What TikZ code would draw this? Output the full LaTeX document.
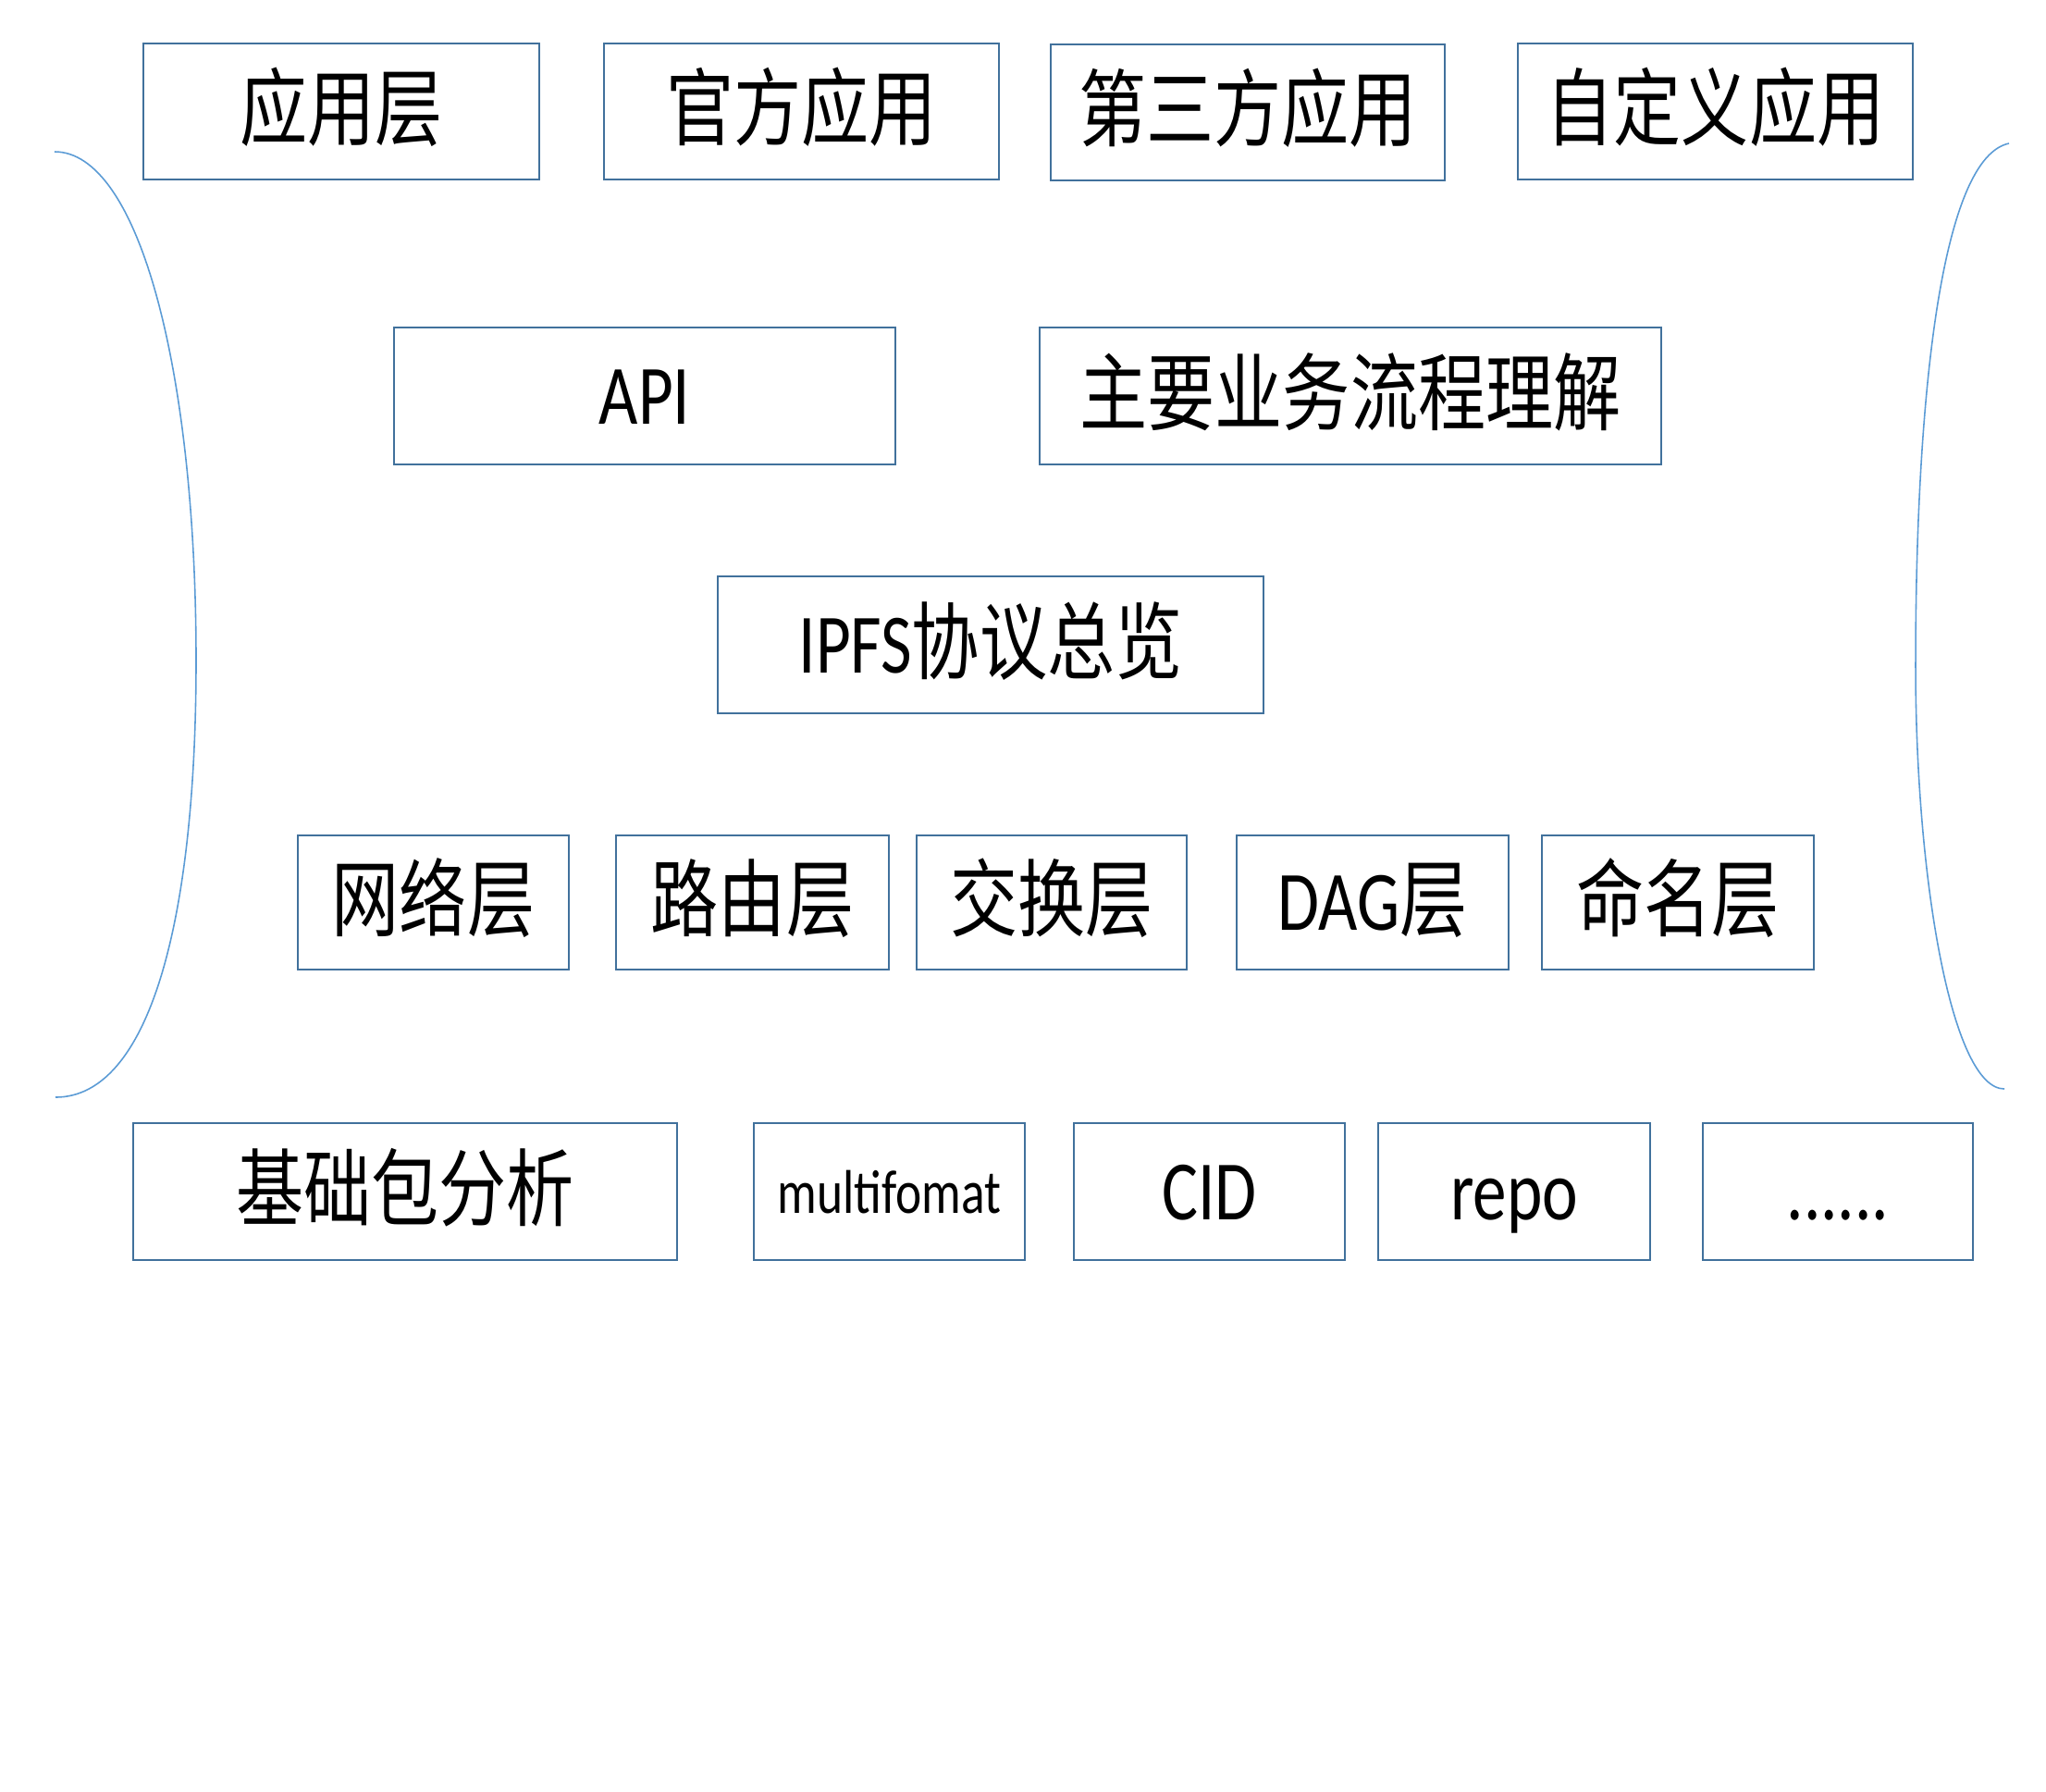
\documentclass[tikz,border=0pt]{standalone}
\usepackage{fontspec}
\setmainfont{Carlito}[FakeStretch=0.8]
\newfontfamily\cjk{Noto Sans CJK SC}[FakeStretch=0.8]
\definecolor{boxblue}{HTML}{41719C}
\definecolor{brkblue}{HTML}{5B9BD5}
\tikzset{
  box/.style={draw=boxblue, line width=0.7pt, inner sep=0pt, minimum height=1.47cm,
    text height=0.6cm, text depth=0cm, font=\fontsize{26}{30}\selectfont},
  smallbox/.style={box, text height=0.46cm, font=\fontsize{19}{22}\selectfont},
  brk/.style={draw=brkblue, line width=0.45pt},
}
\begin{document}
\begin{tikzpicture}
\useasboundingbox (0,0) rectangle (22.12,-19.36);
% top row
\node[box, minimum width=4.28cm] (app)   at (3.69,-1.205)   {\cjk 应用层};
\node[box, minimum width=4.27cm] (off)   at (8.665,-1.205)  {\cjk 官方应用};
\node[box, minimum width=4.26cm] (third) at (13.49,-1.215)  {\cjk 第三方应用};
\node[box, minimum width=4.27cm] (cust)  at (18.545,-1.205) {\cjk 自定义应用};
% second row
\node[box, minimum width=5.42cm, minimum height=1.48cm] (api)  at (6.97,-4.28) {API};
\node[box, minimum width=6.72cm, minimum height=1.48cm] (flow) at (14.60,-4.28) {\cjk 主要业务流程理解};
% third row
\node[box, minimum width=5.90cm, minimum height=1.48cm] (ipfs) at (10.71,-6.97) {IPFS{\cjk 协议总览}};
% fourth row
\node[box, minimum width=2.93cm, minimum height=1.45cm] (net)   at (4.685,-9.755) {\cjk 网络层};
\node[box, minimum width=2.95cm, minimum height=1.45cm] (route) at (8.135,-9.755) {\cjk 路由层};
\node[box, minimum width=2.92cm, minimum height=1.45cm] (xchg)  at (11.37,-9.755) {\cjk 交换层};
\node[box, minimum width=2.94cm, minimum height=1.45cm] (dag)   at (14.84,-9.755) {DAG{\cjk 层}};
\node[box, minimum width=2.94cm, minimum height=1.45cm] (name)  at (18.14,-9.755) {\cjk 命名层};
% bottom row
\node[box, minimum width=5.88cm, minimum height=1.48cm] (base)  at (4.38,-12.88)  {\cjk 基础包分析};
\node[smallbox, minimum width=2.93cm, minimum height=1.48cm] (mf) at (9.615,-12.88) {multifomat};
\node[box, minimum width=2.93cm, minimum height=1.48cm] (cid)   at (13.075,-12.88) {CID};
\node[box, minimum width=2.94cm, minimum height=1.48cm] (repo)  at (16.37,-12.88)  {repo};
\node[box, minimum width=2.92cm, minimum height=1.48cm] (more)  at (19.87,-12.88)  {......};
% brackets
\draw[brk] (0.59,-1.64) .. controls (1.50,-1.64) and (2.12,-4.00) .. (2.12,-7.14)
  .. controls (2.12,-10.00) and (1.60,-11.86) .. (0.60,-11.86);
\draw[brk] (21.72,-1.55) .. controls (21.00,-1.70) and (20.71,-4.20) .. (20.71,-7.20)
  .. controls (20.71,-9.50) and (21.10,-11.77) .. (21.67,-11.77);
\end{tikzpicture}
\end{document}
